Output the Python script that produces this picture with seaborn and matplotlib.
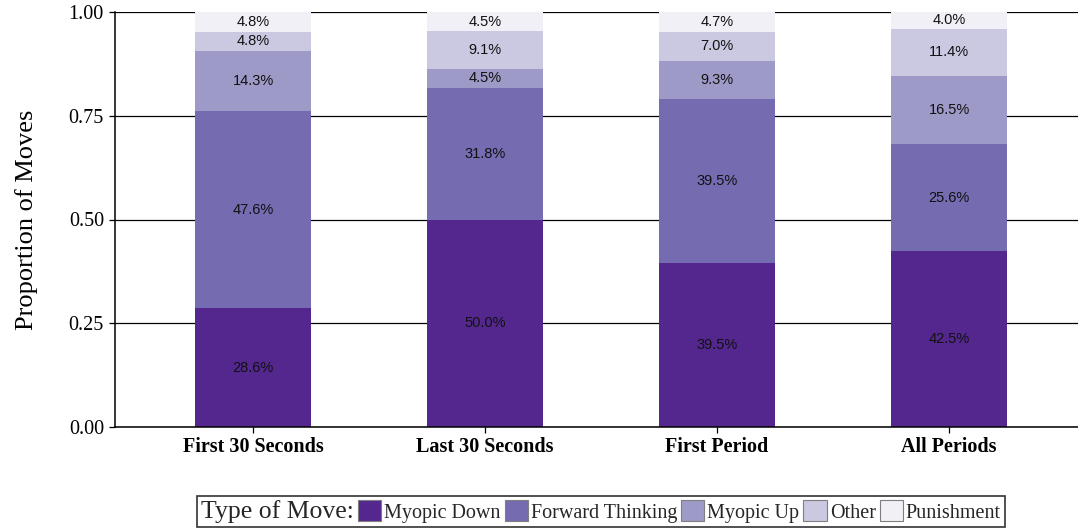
import numpy as np
import pandas as pd
import seaborn as sns
import matplotlib.pyplot as plt
from matplotlib.patches import Patch
from matplotlib.offsetbox import HPacker

# -----------------------------
# Data (percent of moves, bottom segment first)
periods = ["First 30 Seconds", "Last 30 Seconds", "First Period", "All Periods"]
move_types = ["Myopic Down", "Forward Thinking", "Myopic Up", "Other", "Punishment"]

myopic_down = [28.6, 50.0, 39.5, 42.5]
forward_thinking = [47.6, 31.8, 39.5, 25.6]
myopic_up = [14.3, 4.5, 9.3, 16.5]
other = [4.8, 9.1, 7.0, 11.4]
punishment = [4.8, 4.5, 4.7, 4.0]

colors = ["#54278f", "#756bb1", "#9e9ac8", "#cbc9e2", "#f2f0f7"]

# -----------------------------
# Long format table
series = [myopic_down, forward_thinking, myopic_up, other, punishment]
rows = []
for name, vals in zip(move_types, series):
    for p, v in zip(periods, vals):
        rows.append({"period": p, "move": name, "pct": v, "prop": v / 100})
df = pd.DataFrame(rows)

# -----------------------------
# Plot
sns.set_theme(style="white")
plt.rcParams["font.family"] = ["Liberation Serif", "DejaVu Serif"]

fig = plt.figure(figsize=(10.78, 5.29), dpi=100)
ax = fig.add_axes([115 / 1078, 102 / 529, 963 / 1078, 415 / 529])

bottom = np.zeros(len(periods))
for name, col in zip(move_types, colors):
    sub = df[df["move"] == name].set_index("period").loc[periods]
    sns.barplot(x=periods, y=sub["prop"].values, order=periods, color=col,
                saturation=1, width=0.5, errorbar=None, bottom=bottom,
                linewidth=0, ax=ax)
    bottom = bottom + sub["prop"].values

for cont, name in zip(ax.containers, move_types):
    sub = df[df["move"] == name].set_index("period").loc[periods]
    ax.bar_label(cont, labels=[f"{v:.1f}%" for v in sub["pct"]],
                 label_type="center", fontsize=10.5, color="#111111",
                 family=["Liberation Sans", "DejaVu Sans"])

ax.set_xlim(-0.595, -0.595 + 963 / 232)
ax.set_ylim(0, 1)
ax.set_yticks([0, 0.25, 0.5, 0.75, 1.0])
ax.set_yticklabels(["0.00", "0.25", "0.50", "0.75", "1.00"])
ax.set_axisbelow(True)
ax.yaxis.grid(True, color="black", linewidth=0.9)
ax.xaxis.grid(False)

for s in ["top", "right"]:
    ax.spines[s].set_visible(False)
for s in ["left", "bottom"]:
    ax.spines[s].set_color("black")
    ax.spines[s].set_linewidth(1.1)

ax.tick_params(axis="y", left=True, length=4.5, width=0.9, color="black",
               labelsize=14.5, pad=3.5, labelcolor="black")
ax.tick_params(axis="x", bottom=True, length=4.5, width=0.9, color="black",
               labelsize=14.5, pad=3, labelcolor="black")
for lab in ax.get_xticklabels():
    lab.set_fontweight("bold")

ax.set_xlabel("")
ax.set_ylabel("Proportion of Moves", fontsize=19, color="black", labelpad=22)

# -----------------------------
# Legend with the title inline
handles = [Patch(facecolor=c, edgecolor="#7f7f7f", linewidth=0.8) for c in colors]
leg = fig.legend(handles, move_types, title="Type of Move:", loc="lower center",
                 bbox_to_anchor=(0.5575, 0.004), ncol=5, frameon=True,
                 fancybox=False, edgecolor="black", fontsize=14.5,
                 title_fontsize=18.5, handlelength=1.15, handleheight=1.25,
                 handletextpad=0.15, columnspacing=0.2, borderpad=0.2,
                 borderaxespad=0)
leg.get_frame().set_linewidth(1.2)
box = leg._legend_box
inline = HPacker(pad=box.pad, sep=3, align="center",
                 children=[leg._legend_title_box, leg._legend_handle_box])
inline.set_figure(fig)
leg._legend_box = inline
leg._legend_box.set_offset(leg._findoffset)

plt.savefig("out.png", dpi=100)
